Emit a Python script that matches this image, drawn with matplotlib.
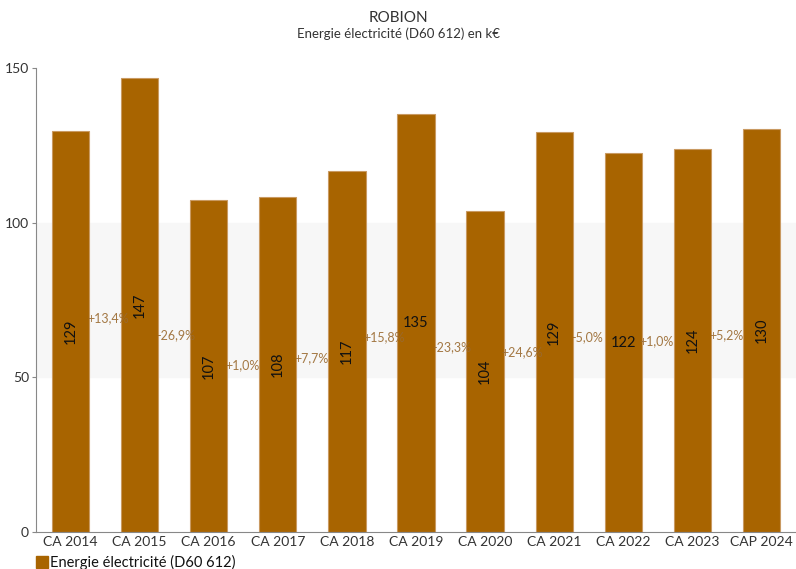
import numpy as np
import matplotlib.pyplot as plt
from matplotlib.patches import Rectangle

plt.rcParams['font.family'] = ['Lato', 'DejaVu Sans']

categories = ['CA 2014', 'CA 2015', 'CA 2016', 'CA 2017', 'CA 2018', 'CA 2019',
              'CA 2020', 'CA 2021', 'CA 2022', 'CA 2023', 'CAP 2024']
values = [129.6, 146.8, 107.3, 108.3, 116.7, 135.1, 103.8, 129.3, 122.5, 123.8, 130.3]
value_labels = ['129', '147', '107', '108', '117', '135', '104', '129', '122', '124', '130']
horizontal = [False, False, False, False, False, True, False, False, True, False, False]
pct_labels = ['+13,4%', '-26,9%', '+1,0%', '+7,7%', '+15,8%', '-23,3%',
              '+24,6%', '-5,0%', '+1,0%', '+5,2%']

bar_color = '#a86400'
edge_color = '#c99a62'
pct_color = '#9a6a30'
bw = 0.54

fig = plt.figure(figsize=(7.96, 5.69), dpi=100)
ax = fig.add_axes([36/796, 37/569, 760/796, 464/569])

x = np.arange(len(categories))
ax.set_xlim(-0.5, len(categories) - 0.5)
ax.set_ylim(0, 150)

# grey band between 50 and 100
ax.axhspan(50, 100, color='#f7f7f7', zorder=0)

ax.bar(x, values, width=bw, color=bar_color, edgecolor=edge_color,
       linewidth=0.8, zorder=2)

for i, v in enumerate(values):
    rot = 0 if horizontal[i] else 90
    ax.text(x[i], v / 2, value_labels[i], rotation=rot, ha='center', va='center',
            fontsize=10.5, color='#111111', zorder=3)

for i, lab in enumerate(pct_labels):
    y = (values[i] + values[i + 1]) / 4
    ax.text(x[i] + bw / 2 - 0.03, y, lab, ha='left', va='center', fontsize=9,
            color=pct_color, alpha=0.9, zorder=3)

ax.set_xticks(x)
ax.set_xticklabels(categories, fontsize=10, color='#333333')
ax.set_yticks([0, 50, 100, 150])
ax.set_yticklabels(['0', '50', '100', '150'], fontsize=10, color='#333333')
ax.tick_params(axis='x', length=0, pad=3)
ax.tick_params(axis='y', length=3, width=0.8, color='#888888', pad=2)

for s in ['top', 'right']:
    ax.spines[s].set_visible(False)
ax.spines['left'].set_color('#888888')
ax.spines['bottom'].set_color('#888888')
ax.spines['left'].set_linewidth(0.8)
ax.spines['bottom'].set_linewidth(0.8)

fig.text(0.5, 1 - 18/569, 'ROBION', ha='center', va='center', fontsize=11, color='#333333')
fig.text(0.5, 1 - 34/569, 'Energie électricité (D60 612) en k€', ha='center', va='center',
         fontsize=9.5, color='#333333')

# legend
fig.patches.append(Rectangle((36/796, 1 - 568/569), 12/796, 12/569,
                             transform=fig.transFigure, color=bar_color))
fig.text(50/796, 1 - 562/569, 'Energie électricité (D60 612)', ha='left', va='center',
         fontsize=10.5, color='#111111')

fig.savefig('out.png', dpi=100)
